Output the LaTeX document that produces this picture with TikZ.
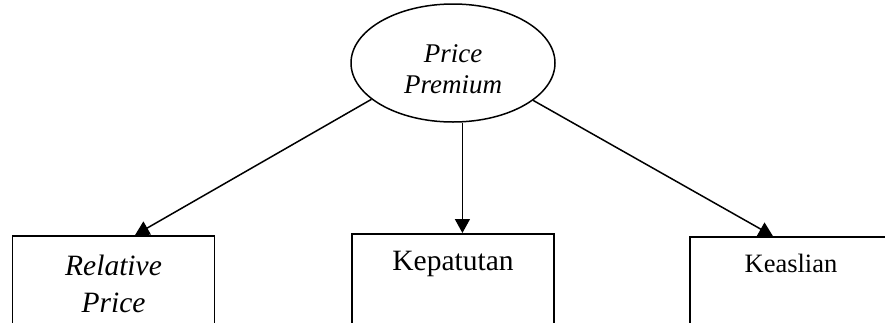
\documentclass[tikz,border=0pt]{standalone}
\usepackage{fontspec}
\setmainfont{Liberation Serif}
\usetikzlibrary{shapes.geometric,arrows.meta,calc}
\begin{document}
\begin{tikzpicture}[x=1pt,y=1pt,
  concept/.style={draw, line width=1.5pt, ellipse, minimum width=204pt,
    minimum height=118pt, inner sep=0pt, align=center,
    font=\fontsize{27}{31}\selectfont\itshape},
  dimbox/.style={draw, line width=1.5pt, rectangle, anchor=north,
    minimum width=202pt, inner xsep=0pt, inner ysep=0pt, align=center},
  link/.style={line width=1.5pt, -{Triangle[length=14pt,width=15pt]}}]
\useasboundingbox (0,0) rectangle (885,-322);
\clip (0,0) rectangle (885,-322);

% top construct
\node[concept, text height=60pt, text depth=0pt] (pp) at (453,-63) {Price\\Premium};

% three dimensions, open at the bottom edge
\node[dimbox, text height=77pt, text depth=90pt,
  font=\fontsize{29.5}{37}\selectfont\itshape] (rel) at (113.5,-235) {Relative\\Price};
\node[dimbox, text height=37pt, text depth=90pt,
  font=\fontsize{29.5}{35}\selectfont] (kep) at (453,-233) {Kepatutan};
\node[dimbox, text height=36pt, text depth=90pt,
  font=\fontsize{26.5}{32}\selectfont] (kea) at (791,-236) {Keaslian};

% connectors
\draw[link] (pp.204.5) -- ($(rel.north west)!0.606!(rel.north east)$);
\draw[link] (pp.279.6) -- (pp.279.6 |- kep.north);
\draw[link] (pp.335.2) -- ($(kea.north west)!0.411!(kea.north east)$);
\end{tikzpicture}
\end{document}
